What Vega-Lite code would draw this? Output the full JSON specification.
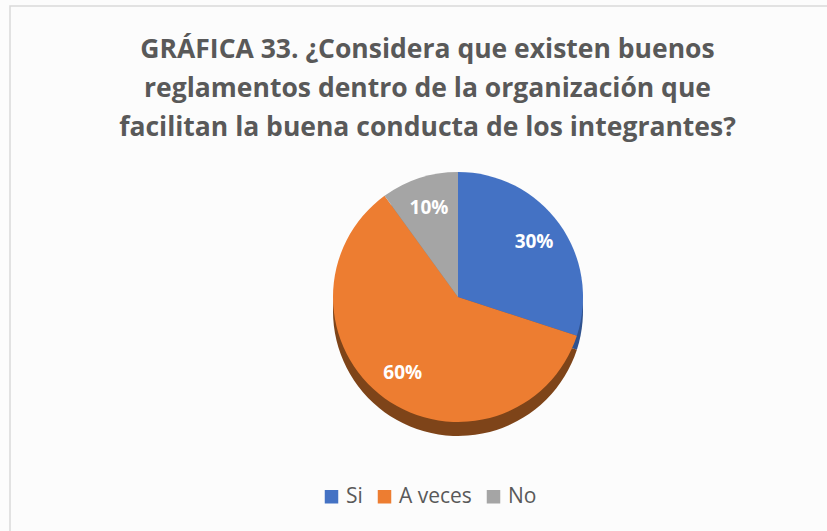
{
  "$schema": "https://vega.github.io/schema/vega-lite/v6.json",
  "width": 817,
  "height": 525,
  "autosize": {"type": "none"},
  "padding": {"left": 10, "top": 6, "right": 0, "bottom": 0},
  "background": "#fcfcfc",
  "view": {"stroke": "#d9d9d9", "strokeWidth": 1.5, "strokeDash": [817, 1342, 525, 20]},
  "title": {
    "text": ["GRÁFICA 33. ¿Considera que existen buenos", "reglamentos dentro de la organización que", "facilitan la buena conducta de los integrantes?"],
    "anchor": "middle",
    "frame": "group",
    "orient": "top",
    "offset": -135,
    "dx": 9,
    "font": "Open Sans",
    "fontSize": 26.5,
    "fontWeight": "bold",
    "color": "#595959",
    "lineHeight": 39
  },
  "data": {
    "values": [
      {"respuesta": "Si", "porcentaje": 30, "orden": 1, "etiqueta": "30%"},
      {"respuesta": "A veces", "porcentaje": 60, "orden": 2, "etiqueta": "60%"},
      {"respuesta": "No", "porcentaje": 10, "orden": 3, "etiqueta": "10%"}
    ]
  },
  "encoding": {
    "theta": {"field": "porcentaje", "type": "quantitative", "stack": true},
    "order": {"field": "orden", "type": "quantitative"}
  },
  "layer": [
    {
      "mark": {"type": "arc", "outerRadius": 125, "xOffset": 39.5, "yOffset": 42.5},
      "encoding": {
        "color": {
          "field": "respuesta", "type": "nominal",
          "scale": {"domain": ["Si", "A veces", "No"], "range": ["#2f528f", "#7e4419", "#7c7c7c"]},
          "legend": null
        }
      }
    },
    {
      "mark": {"type": "arc", "outerRadius": 125, "xOffset": 39.5, "yOffset": 28.5},
      "encoding": {
        "color": {
          "field": "respuesta", "type": "nominal",
          "scale": {"domain": ["Si", "A veces", "No"], "range": ["#4472c4", "#ed7d31", "#a5a5a5"]},
          "legend": {
            "title": null,
            "orient": "none",
            "direction": "horizontal",
            "legendX": 311,
            "legendY": 480,
            "padding": 0,
            "symbolType": "square",
            "symbolSize": 182,
            "symbolStrokeWidth": 0,
            "labelFont": "Open Sans",
            "labelFontSize": 21,
            "labelColor": "#595959",
            "labelOffset": 4,
            "columnPadding": 11
          }
        }
      }
    },
    {
      "mark": {"type": "text", "radius": 94, "xOffset": 39.5, "yOffset": 28.5, "font": "Open Sans", "fontSize": 19, "fontWeight": "bold", "fill": "#ffffff", "baseline": "middle"},
      "encoding": {"text": {"field": "etiqueta", "type": "nominal"}}
    }
  ],
  "resolve": {"scale": {"color": "independent"}}
}
